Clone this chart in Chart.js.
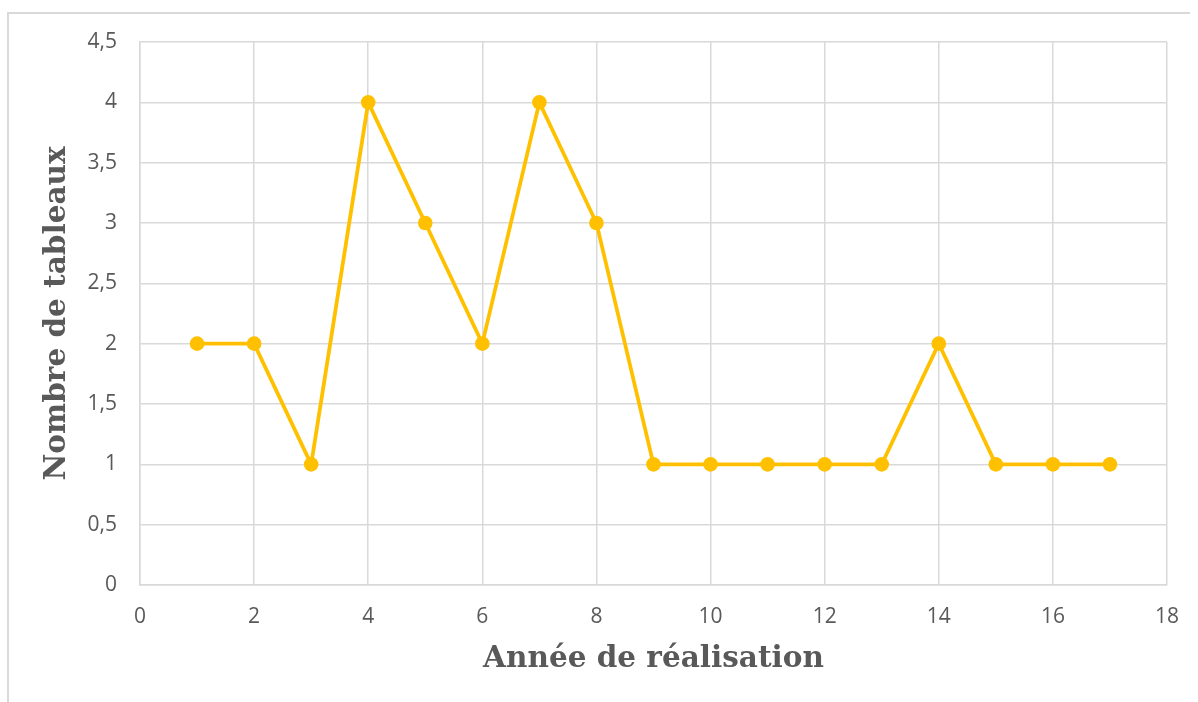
<!DOCTYPE html>
<html><head><meta charset="utf-8">
<script src="https://cdn.jsdelivr.net/npm/chart.js@4/dist/chart.umd.min.js"></script>
<style>html,body{margin:0;padding:0;background:#fff;}#wrap{width:1198px;height:702px;}</style>
</head><body><div id="wrap"><canvas id="c" width="1198" height="702"></canvas></div>
<script>
const years = [1,2,3,4,5,6,7,8,9,10,11,12,13,14,15,16,17];
const counts = [2,2,1,4,3,2,4,3,1,1,1,1,1,2,1,1,1];
const xTitle = 'Année de réalisation';
const yTitle = 'Nombre de tableaux';

const frame = {
  id: 'frame',
  beforeDraw(chart) {
    const ctx = chart.ctx;
    ctx.save();
    ctx.strokeStyle = '#d9d9d9';
    ctx.lineWidth = 2;
    ctx.beginPath();
    ctx.moveTo(8, 702);
    ctx.lineTo(8, 13);
    ctx.lineTo(1190, 13);
    ctx.stroke();
    ctx.restore();
  }
};

new Chart(document.getElementById('c'), {
  type: 'line',
  data: { datasets: [{
    data: years.map((x, i) => ({x, y: counts[i]})),
    borderColor: '#FFC000', backgroundColor: '#FFC000',
    borderWidth: 3.75, pointRadius: 7.3, pointBorderWidth: 0,
    pointBackgroundColor: '#FFC000', tension: 0
  }]},
  options: {
    responsive: false, animation: false,
    layout: { padding: { left: 8, top: 42, right: 28, bottom: 0 } },
    plugins: { legend: { display: false }, tooltip: { enabled: false } },
    scales: {
      x: {
        type: 'linear', min: 0, max: 18,
        ticks: { stepSize: 2, color: '#595959', padding: 19, font: { family: 'Open Sans', size: 21 } },
        grid: { color: '#d9d9d9', lineWidth: 1.5, drawTicks: false },
        border: { color: '#d9d9d9', width: 1.5 },
        title: { display: true, text: xTitle, color: '#595959', padding: { top: 0, bottom: 25 },
                 font: { family: 'DejaVu Serif', weight: 'bold', size: 29.5 } },
        afterFit(s) { s.height = 117; }
      },
      y: {
        min: 0, max: 4.5,
        ticks: { stepSize: 0.5, color: '#595959', padding: 23, font: { family: 'Open Sans', size: 21 },
                 callback: v => String(v).replace('.', ',') },
        grid: { color: '#d9d9d9', lineWidth: 1.5, drawTicks: false },
        border: { color: '#d9d9d9', width: 1.5 },
        title: { display: true, text: yTitle, color: '#595959', padding: { top: 32, bottom: 0 },
                 font: { family: 'DejaVu Serif', weight: 'bold', size: 29.5 } },
        afterFit(s) { s.width = 132; }
      }
    }
  },
  plugins: [frame]
});
</script></body></html>
